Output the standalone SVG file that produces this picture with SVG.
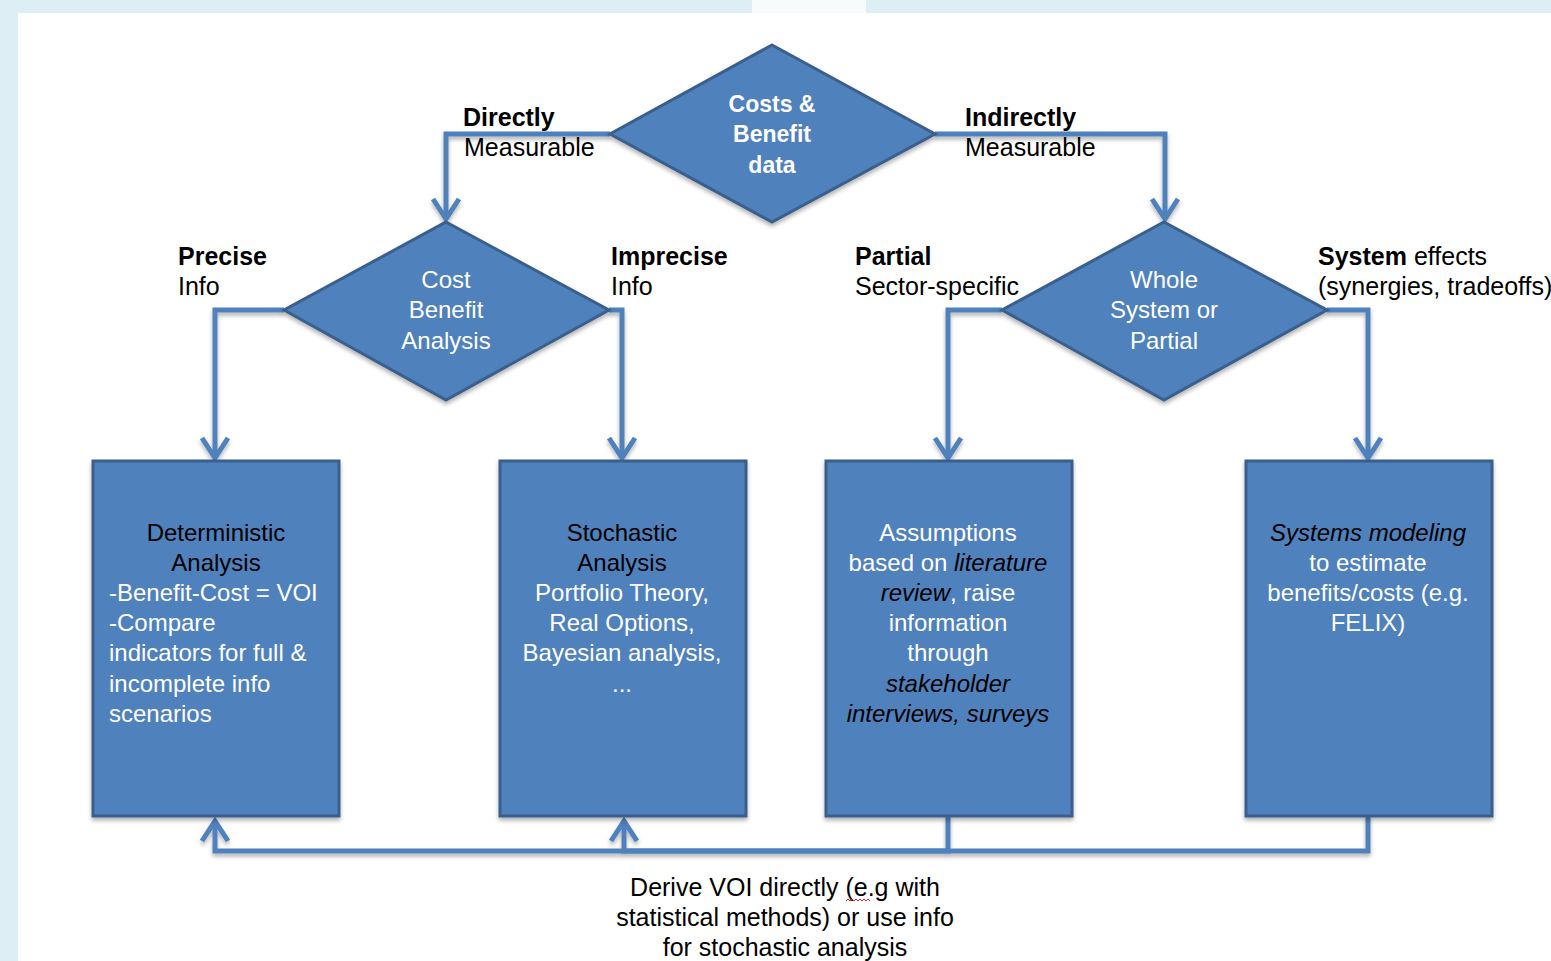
<svg xmlns="http://www.w3.org/2000/svg" width="1551" height="961" viewBox="0 0 1551 961">
<style>
.t{font-family:"Liberation Sans",Arial,sans-serif;font-size:24px;fill:#000}
.l{font-size:25px}
.w{fill:#fff}
.b{font-weight:bold}
.i{font-style:italic}
.c{text-anchor:middle}
.shape{fill:#4F81BD;stroke:#3A5F8C;stroke-width:3}
.conn{fill:none;stroke:#4F81BD;stroke-width:5}
</style>
<defs>
<marker id="arr" markerUnits="userSpaceOnUse" markerWidth="32" markerHeight="32" viewBox="0 0 32 32" refX="24" refY="16" orient="auto" overflow="visible">
<path d="M4,3 L24,16 L4,29" fill="none" stroke="#4F81BD" stroke-width="5"/>
</marker>
<filter id="sh" x="-10%" y="-10%" width="120%" height="130%">
<feDropShadow dx="0" dy="3" stdDeviation="2" flood-color="#000" flood-opacity="0.3"/>
</filter>
</defs>
<rect x="0" y="0" width="1551" height="961" fill="#DEEEF5"/>
<rect x="752" y="0" width="114" height="13" fill="#F7FBFC"/>
<rect x="18" y="13" width="1533" height="948" fill="#FFFFFF"/>

<g id="connectors" filter="url(#sh)">
<path class="conn" d="M610,134 H446 V219" marker-end="url(#arr)"/>
<path class="conn" d="M935,134 H1165 V219" marker-end="url(#arr)"/>
<path class="conn" d="M284,310 H215 V458" marker-end="url(#arr)"/>
<path class="conn" d="M609,310 H622 V458" marker-end="url(#arr)"/>
<path class="conn" d="M1002,310 H948 V458" marker-end="url(#arr)"/>
<path class="conn" d="M1327,310 H1368 V458" marker-end="url(#arr)"/>
<path class="conn" d="M948,816 V851 H215 V821" marker-end="url(#arr)"/>
<path class="conn" d="M1368,816 V851 H624 V821" marker-end="url(#arr)"/>
</g>

<g id="node-costs-benefit-data">
<polygon class="shape" filter="url(#sh)" points="772,45 935,134 772,222 610,134"/>
<text class="t w b c" style="font-size:23px" x="772" y="112">Costs &amp;</text>
<text class="t w b c" style="font-size:23px" x="772" y="142">Benefit</text>
<text class="t w b c" style="font-size:23px" x="772" y="173">data</text>
</g>

<g id="node-cost-benefit-analysis">
<polygon class="shape" filter="url(#sh)" points="446,222 609,310 446,400 284,310"/>
<text class="t w c" x="446" y="288">Cost</text>
<text class="t w c" x="446" y="318">Benefit</text>
<text class="t w c" x="446" y="349">Analysis</text>
</g>

<g id="node-whole-system">
<polygon class="shape" filter="url(#sh)" points="1164,222 1327,310 1164,400 1002,310"/>
<text class="t w c" x="1164" y="288">Whole</text>
<text class="t w c" x="1164" y="318">System or</text>
<text class="t w c" x="1164" y="349">Partial</text>
</g>

<g id="node-deterministic">
<rect class="shape" filter="url(#sh)" x="93" y="461" width="246" height="355"/>
<text class="t c" x="216" y="541">Deterministic</text>
<text class="t c" x="216" y="571">Analysis</text>
<text class="t w" x="109" y="601">-Benefit-Cost = VOI</text>
<text class="t w" x="109" y="631">-Compare</text>
<text class="t w" x="109" y="661">indicators for full &amp;</text>
<text class="t w" x="109" y="692">incomplete info</text>
<text class="t w" x="109" y="722">scenarios</text>
</g>

<g id="node-stochastic">
<rect class="shape" filter="url(#sh)" x="500" y="461" width="246" height="355"/>
<text class="t c" x="622" y="541">Stochastic</text>
<text class="t c" x="622" y="571">Analysis</text>
<text class="t w c" x="622" y="601">Portfolio Theory,</text>
<text class="t w c" x="622" y="631">Real Options,</text>
<text class="t w c" x="622" y="661">Bayesian analysis,</text>
<text class="t w c" x="622" y="692">...</text>
</g>

<g id="node-assumptions">
<rect class="shape" filter="url(#sh)" x="826" y="461" width="246" height="355"/>
<text class="t w c" x="948" y="541">Assumptions</text>
<text class="t c" x="948" y="571"><tspan class="w">based on </tspan><tspan class="i">literature</tspan></text>
<text class="t c" x="948" y="601"><tspan class="i">review</tspan><tspan class="w">, raise</tspan></text>
<text class="t w c" x="948" y="631">information</text>
<text class="t w c" x="948" y="661">through</text>
<text class="t i c" x="948" y="692">stakeholder</text>
<text class="t i c" x="948" y="722">interviews, surveys</text>
</g>

<g id="node-systems-modeling">
<rect class="shape" filter="url(#sh)" x="1246" y="461" width="246" height="355"/>
<text class="t i c" x="1368" y="541">Systems modeling</text>
<text class="t w c" x="1368" y="571">to estimate</text>
<text class="t w c" x="1368" y="601">benefits/costs (e.g.</text>
<text class="t w c" x="1368" y="631">FELIX)</text>
</g>

<g id="labels">
<text class="t l b" x="463" y="126">Directly</text>
<text class="t l" x="464" y="156">Measurable</text>
<text class="t l b" x="965" y="126">Indirectly</text>
<text class="t l" x="965" y="156">Measurable</text>
<text class="t l b" x="178" y="265">Precise</text>
<text class="t l" x="178" y="295">Info</text>
<text class="t l b" x="611" y="265">Imprecise</text>
<text class="t l" x="611" y="295">Info</text>
<text class="t l b" x="855" y="265">Partial</text>
<text class="t l" x="855" y="295">Sector-specific</text>
<text class="t l" x="1318" y="265"><tspan class="b">System</tspan> effects</text>
<text class="t l" x="1318" y="295">(synergies, tradeoffs)</text>
<text class="t l c" x="785" y="896">Derive VOI directly (e.g with</text>
<text class="t l c" x="785" y="926">statistical methods) or use info</text>
<text class="t l c" x="785" y="956">for stochastic analysis</text>
<path d="M846,901 l2,-2 l2,2 l2,-2 l2,2 l2,-2 l2,2 l2,-2 l2,2 l2,-2 l2,2 l2,-2 l2,2" fill="none" stroke="#E02020" stroke-width="1"/>
</g>
</svg>
